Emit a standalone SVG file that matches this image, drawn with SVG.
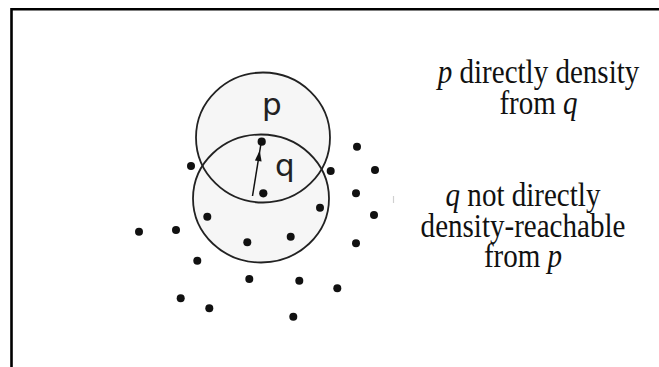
<svg xmlns="http://www.w3.org/2000/svg" width="659" height="367" viewBox="0 0 659 367">
  <style>
    .frame { fill: none; stroke: #000; stroke-width: 2.6; }
    .disc { fill: #f6f6f6; stroke: none; }
    .ring { fill: none; stroke: #222; stroke-width: 1.8; }
    .dot { fill: #111; }
    .lbl { font-family: "DejaVu Sans", "Liberation Sans", sans-serif; font-size: 31px; fill: #222; }
    .cap { font-family: "Liberation Serif", "Times New Roman", serif; font-size: 33px; fill: #111; text-anchor: middle; }
    .var { font-style: italic; }
    .conn { stroke: #111; stroke-width: 1.5; fill: none; }
  </style>

  <rect x="0" y="0" width="659" height="367" fill="#fff"/>
  <path class="frame" d="M11.5,367 V9.2 H659"/>

  <g id="neighborhoods">
    <ellipse class="disc" cx="263" cy="137.5" rx="67" ry="65"/>
    <ellipse class="disc" cx="261" cy="198.5" rx="68" ry="64"/>
  </g>
  <g id="node-p-region">
    <ellipse class="ring" cx="263" cy="137.5" rx="67" ry="65"/>
    <text class="lbl" x="262" y="115">p</text>
  </g>
  <g id="node-q-region">
    <ellipse class="ring" cx="261" cy="198.5" rx="68" ry="64"/>
    <text class="lbl" x="275" y="176">q</text>
  </g>

  <g id="node-p"><circle class="dot" cx="261.7" cy="141.7" r="4.1"/></g>
  <g id="node-q"><circle class="dot" cx="263.3" cy="193.3" r="4.1"/></g>

  <g id="points">
    <circle class="dot" cx="191" cy="166" r="4"/>
    <circle class="dot" cx="330.7" cy="171" r="4"/>
    <circle class="dot" cx="357" cy="146.7" r="4"/>
    <circle class="dot" cx="375" cy="170" r="4"/>
    <circle class="dot" cx="356" cy="193.3" r="4"/>
    <circle class="dot" cx="374" cy="215" r="4"/>
    <circle class="dot" cx="320" cy="207.7" r="4"/>
    <circle class="dot" cx="207.3" cy="216.7" r="4"/>
    <circle class="dot" cx="139" cy="231.7" r="4"/>
    <circle class="dot" cx="176" cy="230" r="4"/>
    <circle class="dot" cx="247.3" cy="242.3" r="4"/>
    <circle class="dot" cx="290.7" cy="236.7" r="4"/>
    <circle class="dot" cx="356" cy="243.3" r="4"/>
    <circle class="dot" cx="197.3" cy="260.7" r="4"/>
    <circle class="dot" cx="249.3" cy="279" r="4"/>
    <circle class="dot" cx="299.3" cy="280.7" r="4"/>
    <circle class="dot" cx="337.3" cy="288.3" r="4"/>
    <circle class="dot" cx="180.7" cy="298.3" r="4"/>
    <circle class="dot" cx="209.3" cy="308.3" r="4"/>
    <circle class="dot" cx="293.3" cy="316.7" r="4"/>
    <line x1="393.5" y1="196" x2="393.5" y2="203" stroke="#d0d0d0" stroke-width="1.2"/>
  </g>

  <g id="connectors">
    <line class="conn" x1="252.5" y1="196" x2="261" y2="143.5"/>
    <polygon fill="#111" points="259.7,150.5 261.6,161.6 254.9,160.6"/>
  </g>

  <g id="caption-1">
    <text class="cap" transform="translate(538.5,82.5) scale(0.88,1)"><tspan class="var">p</tspan> directly density</text>
    <text class="cap" transform="translate(538.5,113.5) scale(0.88,1)">from <tspan class="var">q</tspan></text>
  </g>
  <g id="caption-2">
    <text class="cap" transform="translate(523,205.5) scale(0.88,1)"><tspan class="var">q</tspan> not directly</text>
    <text class="cap" transform="translate(523,236.5) scale(0.88,1)">density-reachable</text>
    <text class="cap" transform="translate(523,267) scale(0.88,1)">from <tspan class="var">p</tspan></text>
  </g>
</svg>
